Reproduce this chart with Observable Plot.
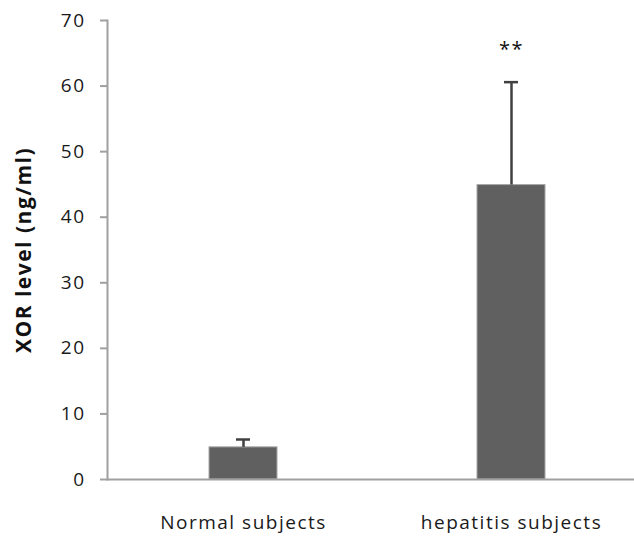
<!DOCTYPE html>
<html>
<head>
<meta charset="utf-8">
<script src="https://cdn.jsdelivr.net/npm/d3@7"></script>
<script src="https://cdn.jsdelivr.net/npm/@observablehq/plot@0.6"></script>
<style>
  html, body { margin: 0; padding: 0; background: #fff; overflow: hidden; }
  #chart text { letter-spacing: 1.5px; }
</style>
</head>
<body>
<div id="chart"></div>
<script>
const categories = ["Normal subjects", "hepatitis subjects"];
const means = [4.9, 44.9];
const errors = [1.2, 15.7];
const significance = ["", "**"];
const yTicks = [0, 10, 20, 30, 40, 50, 60, 70];
const yLabel = ["XOR level (ng/ml)"];

const data = categories.map((c, i) => ({
  group: c,
  mean: means[i],
  top: means[i] + errors[i],
  sig: significance[i]
}));

const chart = Plot.plot({
  width: 634,
  height: 536,
  marginLeft: 107,
  marginRight: 0,
  marginTop: 20,
  marginBottom: 57,
  style: { fontFamily: "'Open Sans', sans-serif", fontSize: "19px", color: "#1a1a1a", background: "#fff" },
  x: { domain: categories, range: [109, 645], paddingInner: 0.746, paddingOuter: 0.373, label: null },
  y: { domain: [0, 70], label: null },
  marks: [
    Plot.barY(data, { x: "group", y: "mean", fill: "#606060", stroke: "#a6a6a6", strokeWidth: 1 }),
    Plot.ruleX(data, { x: "group", y1: "mean", y2: "top", stroke: "#404040", strokeWidth: 2.5 }),
    Plot.tickY(data, { x: "group", y: "top", stroke: "#404040", strokeWidth: 2.5, insetLeft: 27, insetRight: 27 }),
    Plot.text(data, { x: "group", y: (d) => d.top + 5.4, text: "sig", fontSize: 20, fill: "#111", lineAnchor: "middle", dy: 3 }),
    Plot.ruleY([0], { stroke: "#a0a0a0", strokeWidth: 2 }),
    Plot.frame({ anchor: "left", stroke: "#a0a0a0", strokeWidth: 2 }),
    Plot.axisY({ ticks: yTicks, tickSize: 7, tickPadding: 15, stroke: "#a0a0a0", strokeWidth: 2, fill: "#1a1a1a", label: null }),
    Plot.axisX({ tickSize: 0, tickPadding: 36, fill: "#1a1a1a", label: null }),
    Plot.text(yLabel, { frameAnchor: "left", dx: -83, rotate: -90, text: (d) => d, fontWeight: "bold", fontSize: 21, fill: "#111", textAnchor: "middle", lineAnchor: "middle" })
  ]
});

document.getElementById("chart").appendChild(chart);
</script>
</body>
</html>
